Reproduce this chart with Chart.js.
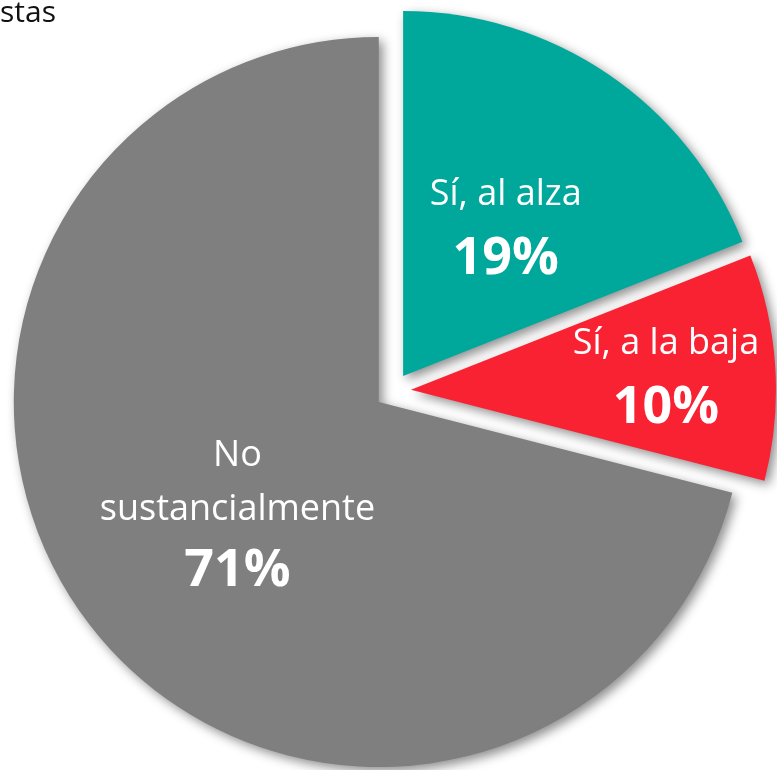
<!DOCTYPE html>
<html>
<head>
<meta charset="utf-8">
<script src="https://cdn.jsdelivr.net/npm/chart.js@4.4.1/dist/chart.umd.min.js"></script>
<style>
  html, body { margin: 0; padding: 0; background: #fff; overflow: hidden; }
  #wrap { position: relative; width: 777px; height: 770px; }
  #title { position: absolute; left: 0; top: -4px; font: 30px/30px "Open Sans", sans-serif; color: #111; }
  canvas { position: absolute; left: 0; top: 0; }
</style>
</head>
<body>
<div id="wrap">
  <canvas id="pieChart" width="777" height="770"></canvas>
  <div id="title">stas</div>
</div>
<script>
// Data
const labels = ['Sí, al alza', 'Sí, a la baja', 'No sustancialmente'];
const values = [19, 10, 71];
const colors = ['#00A89B', '#F92232', '#7F7F7F'];
// how the category text is broken into lines inside each slice
const labelLines = [['Sí, al alza'], ['Sí, a la baja'], ['No', 'sustancialmente']];
// where along the slice bisector the label block sits (fraction of radius)
const labelDist = [0.50, 0.70, 0.49];
// every slice is pulled out from the centre by this many px
const explode = 18;

// draw each arc shifted along its bisector (Chart.js' own offset also grows the radius),
// with a soft drop shadow like the original
const explodedArcs = {
  id: 'explodedArcs',
  beforeDatasetDraw(chart, args) {
    const ctx = chart.ctx;
    ctx.save();
    ctx.shadowColor = 'rgba(0,0,0,0.45)';
    ctx.shadowBlur = 11;
    ctx.shadowOffsetX = 4;
    ctx.shadowOffsetY = 4;
    args.meta.data.forEach(arc => {
      const mid = (arc.startAngle + arc.endAngle) / 2;
      ctx.save();
      ctx.translate(Math.cos(mid) * explode, Math.sin(mid) * explode);
      arc.draw(ctx, chart.chartArea);
      ctx.restore();
    });
    ctx.restore();
    return false;
  }
};

// text labels in the slices
const sliceLabels = {
  id: 'sliceLabels',
  afterDatasetsDraw(chart) {
    const ctx = chart.ctx;
    const meta = chart.getDatasetMeta(0);
    const sum = values.reduce((a, b) => a + b, 0);
    ctx.save();
    ctx.fillStyle = '#fff';
    ctx.textAlign = 'center';
    ctx.textBaseline = 'middle';
    meta.data.forEach((arc, i) => {
      const mid = (arc.startAngle + arc.endAngle) / 2;
      const d = explode + labelDist[i] * arc.outerRadius;
      const cx = arc.x + Math.cos(mid) * d;
      const cy = arc.y + Math.sin(mid) * d + 2;
      const lines = labelLines[i];
      const pct = Math.round(values[i] / sum * 100) + '%';
      const lineGap = 54;
      const pctGap = lines.length > 1 ? 62 : 65;
      const total = (lines.length - 1) * lineGap + pctGap;
      let y = cy - total / 2;
      ctx.font = '36px "Open Sans", sans-serif';
      lines.forEach(t => {
        ctx.fillText(t, cx, y);
        y += lineGap;
      });
      y += pctGap - lineGap;
      ctx.font = 'bold 52px "Open Sans", sans-serif';
      ctx.fillText(pct, cx, y);
    });
    ctx.restore();
  }
};

const ctx = document.getElementById('pieChart').getContext('2d');
new Chart(ctx, {
  type: 'pie',
  data: {
    labels: labels,
    datasets: [{
      data: values,
      backgroundColor: colors,
      borderWidth: 0
    }]
  },
  options: {
    responsive: false,
    animation: false,
    radius: 365,
    layout: { padding: { left: 9, right: 0, top: 12, bottom: 0 } },
    plugins: {
      legend: { display: false },
      tooltip: { enabled: false }
    }
  },
  plugins: [explodedArcs, sliceLabels]
});
</script>
</body>
</html>
